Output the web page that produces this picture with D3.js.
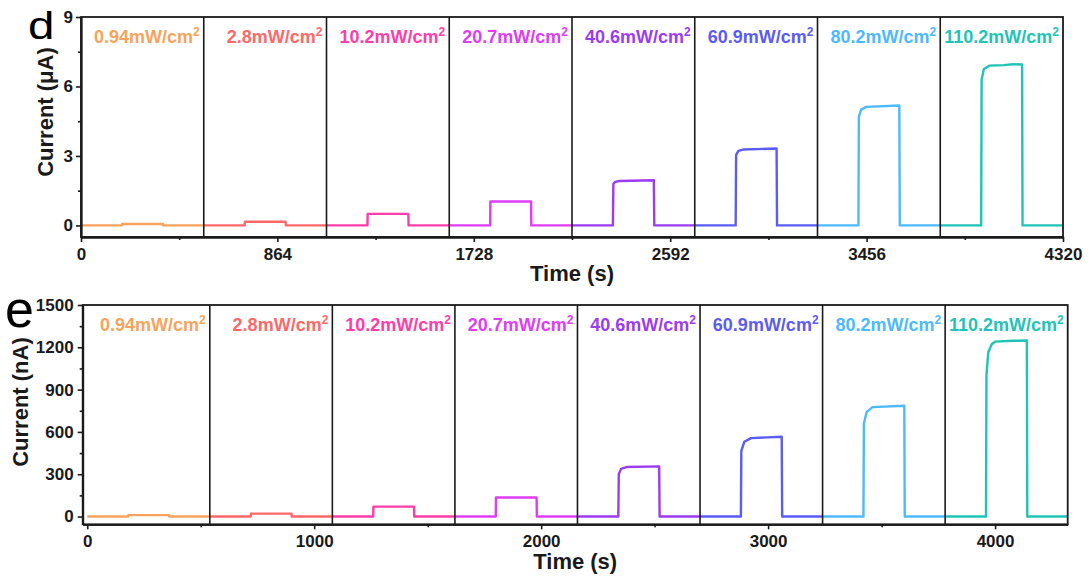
<!DOCTYPE html>
<html>
<head>
<meta charset="utf-8">
<script src="https://cdn.jsdelivr.net/npm/d3@7"></script>
<style>
  body { margin: 0; background: #fff; }
  svg { display: block; font-family: "Liberation Sans", Arial, sans-serif; }
</style>
</head>
<body>
<div id="graph"></div>
<script>
// ---- data ----
const dividerTimes = [540, 1080, 1620, 2160, 2700, 3240, 3780];
const powerLabels = ["0.94", "2.8", "10.2", "20.7", "40.6", "60.9", "80.2", "110.2"];
const segmentColors = ["#F7A35C", "#FF6868", "#FF3DAA", "#E03CF5", "#9C3CF2", "#5B5BF5", "#4DB9FF", "#1FC4B6"];

// panel d: current in uA, [time s, current]
const currentUA = [
  [[0, 0], [180, 0], [181, 0.06], [360, 0.06], [361, 0], [540, 0]],
  [[540, 0], [720, 0], [721, 0.16], [900, 0.16], [901, 0], [1080, 0]],
  [[1080, 0], [1260, 0], [1261, 0.50], [1440, 0.50], [1441, 0], [1620, 0]],
  [[1620, 0], [1800, 0], [1801, 1.03], [1980, 1.04], [1981, 0], [2160, 0]],
  [[2160, 0], [2340, 0], [2342, 1.80], [2350, 1.88], [2370, 1.92], [2520, 1.95], [2522, 0], [2700, 0]],
  [[2700, 0], [2880, 0], [2882, 3.05], [2892, 3.22], [2915, 3.28], [3060, 3.32], [3062, 0], [3240, 0]],
  [[3240, 0], [3420, 0], [3422, 4.70], [3432, 5.00], [3455, 5.12], [3600, 5.18], [3602, 0], [3780, 0]],
  [[3780, 0], [3960, 0], [3962, 6.30], [3972, 6.75], [3995, 6.90], [4060, 6.92], [4100, 6.96], [4140, 6.95], [4142, 0], [4320, 0]]
];

// panel e: current in nA, [time s, current]
const currentNA = [
  [[0, 0], [180, 0], [181, 10], [360, 10], [361, 0], [540, 0]],
  [[540, 0], [720, 0], [721, 21], [900, 21], [901, 0], [1080, 0]],
  [[1080, 0], [1260, 0], [1261, 70], [1440, 70], [1441, 0], [1620, 0]],
  [[1620, 0], [1800, 0], [1801, 135], [1980, 136], [1981, 0], [2160, 0]],
  [[2160, 0], [2340, 0], [2342, 300], [2352, 338], [2375, 351], [2520, 356], [2522, 0], [2700, 0]],
  [[2700, 0], [2880, 0], [2882, 465], [2895, 530], [2925, 556], [3060, 566], [3062, 0], [3240, 0]],
  [[3240, 0], [3420, 0], [3422, 660], [3434, 740], [3460, 776], [3600, 786], [3602, 0], [3780, 0]],
  [[3780, 0], [3960, 0], [3962, 1000], [3970, 1165], [3985, 1222], [4000, 1240], [4080, 1246], [4140, 1248], [4142, 0], [4320, 0]]
];

const topXTicks = [0, 864, 1728, 2592, 3456, 4320];
const topXMinor = [432, 1296, 2160, 3024, 3888];
const topYTicks = [0, 3, 6, 9];
const topYMinor = [1.5, 4.5, 7.5];

const botXTicks = [0, 1000, 2000, 3000, 4000];
const botXMinor = [500, 1500, 2500, 3500];
const botYTicks = [0, 300, 600, 900, 1200, 1500];
const botYMinor = [150, 450, 750, 1050, 1350];

let width = 1089, height = 579;

let svg = d3.select("#graph")
    .append("svg")
    .attr("width", width)
    .attr("height", height);

function drawPanel(p) {
    let x = d3.scaleLinear().domain(p.xDomain).range([p.left, p.right]);
    let y = d3.scaleLinear().domain(p.yDomain).range([p.bottom, p.top]);
    let g = svg.append("g");

    // traces
    let line = d3.line()
        .x(function(d) { return x(d[0]); })
        .y(function(d) { return y(d[1]); });

    g.selectAll("path.trace")
        .data(p.series)
        .enter()
        .append("path")
        .attr("class", "trace")
        .attr("d", line)
        .attr("fill", "none")
        .attr("stroke", function(d, i) { return segmentColors[i]; })
        .attr("stroke-width", 2.4)
        .attr("stroke-linejoin", "round");

    // dividers between light intensities
    g.selectAll("line.divider")
        .data(dividerTimes)
        .enter()
        .append("line")
        .attr("class", "divider")
        .attr("x1", function(d) { return x(d); })
        .attr("x2", function(d) { return x(d); })
        .attr("y1", p.top)
        .attr("y2", p.bottom)
        .attr("stroke", "#1a1a1a")
        .attr("stroke-width", 1.6);

    // frame
    g.append("rect")
        .attr("x", p.left).attr("y", p.top)
        .attr("width", p.right - p.left)
        .attr("height", p.bottom - p.top)
        .attr("fill", "none")
        .attr("stroke", "#1a1a1a")
        .attr("stroke-width", 1.8);

    // axes
    let fmt = d3.format("d");
    g.append("g")
        .attr("transform", `translate(0,${p.bottom})`)
        .call(d3.axisBottom(x).tickValues(p.xTicks).tickFormat(fmt).tickSize(5).tickSizeOuter(0).tickPadding(6));
    g.append("g")
        .attr("transform", `translate(0,${p.bottom})`)
        .call(d3.axisBottom(x).tickValues(p.xMinor).tickSize(3).tickSizeOuter(0).tickFormat(""));

    g.append("g")
        .attr("transform", `translate(${p.left},0)`)
        .call(d3.axisLeft(y).tickValues(p.yTicks).tickFormat(fmt).tickSize(5).tickSizeOuter(0).tickPadding(p.yPad));
    g.append("g")
        .attr("transform", `translate(${p.left},0)`)
        .call(d3.axisLeft(y).tickValues(p.yMinor).tickSize(3).tickSizeOuter(0).tickFormat(""));

    g.selectAll(".domain").attr("stroke", "#1a1a1a").attr("stroke-width", 1.8);
    g.selectAll(".tick line").attr("stroke", "#1a1a1a").attr("stroke-width", 1.6);
    g.selectAll(".tick text")
        .attr("fill", "#1a1a1a")
        .style("font-family", "'Liberation Sans', Arial, sans-serif")
        .style("font-size", "17px")
        .style("font-weight", "bold");

    // intensity labels
    let bounds = dividerTimes.concat([4320]);
    let labels = g.selectAll("text.power")
        .data(powerLabels)
        .enter()
        .append("text")
        .attr("class", "power")
        .attr("x", function(d, i) { return x(bounds[i]) - 4; })
        .attr("y", p.top + 26)
        .attr("text-anchor", "end")
        .attr("fill", function(d, i) { return segmentColors[i]; })
        .style("font-size", "18px")
        .style("font-weight", "bold");
    labels.append("tspan").text(function(d) { return d + "mW/cm"; });
    labels.append("tspan")
        .attr("dy", -7)
        .style("font-size", "12px")
        .text("2");

    // axis titles
    svg.append("text")
        .attr("transform", `translate(${(p.left + p.right) / 2},${p.xTitleY})`)
        .style("text-anchor", "middle")
        .style("font-size", "22px")
        .style("font-weight", "bold")
        .attr("fill", "#1a1a1a")
        .text("Time (s)");

    svg.append("text")
        .attr("transform", `translate(${p.yTitleX},${p.yTitleY}) rotate(-90)`)
        .style("text-anchor", "middle")
        .style("font-size", "22px")
        .style("font-weight", "bold")
        .attr("fill", "#1a1a1a")
        .text(p.yTitle);

    // panel letter
    svg.append("text")
        .attr("transform", p.letterTransform)
        .style("font-size", p.letterSize)
        .attr("fill", "#000")
        .text(p.letter);
}

drawPanel({
    series: currentUA,
    xDomain: [0, 4320], yDomain: [-0.5, 9],
    left: 81, right: 1063, top: 17, bottom: 237,
    xTicks: topXTicks, xMinor: topXMinor, yTicks: topYTicks, yMinor: topYMinor,
    yPad: 3,
    xTitleY: 281, yTitleX: 53, yTitleY: 112, yTitle: "Current (\u03bcA)",
    letter: "d", letterSize: "38px", letterTransform: "translate(28,39) scale(1.25,1)"
});

drawPanel({
    series: currentNA,
    xDomain: [-20, 4320], yDomain: [-55, 1500],
    left: 82.7, right: 1067.7, top: 305, bottom: 524.3,
    xTicks: botXTicks, xMinor: botXMinor, yTicks: botYTicks, yMinor: botYMinor,
    yPad: 4,
    xTitleY: 569, yTitleX: 28, yTitleY: 402, yTitle: "Current (nA)",
    letter: "e", letterSize: "52px", letterTransform: "translate(5,327)"
});
</script>
</body>
</html>
